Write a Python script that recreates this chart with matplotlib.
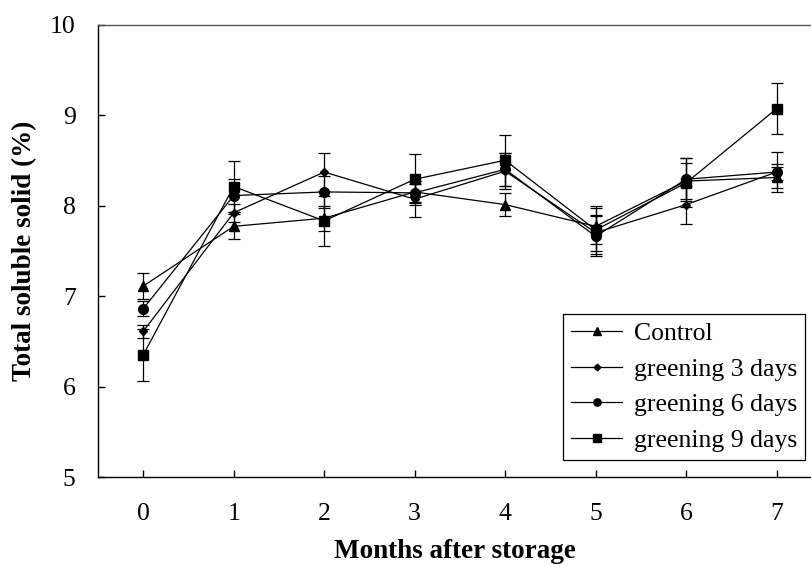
import matplotlib
matplotlib.use("Agg")
import matplotlib.pyplot as plt
from matplotlib.lines import Line2D

plt.rcParams['font.family'] = ['Liberation Serif', 'DejaVu Serif']

months = [0, 1, 2, 3, 4, 5, 6, 7]

control = [7.11, 7.77, 7.86, 8.15, 8.01, 7.77, 8.27, 8.31]
control_err = [0.14, 0.14, 0.14, 0.12, 0.13, 0.20, 0.20, 0.12]

green3 = [6.61, 7.92, 8.37, 8.07, 8.38, 7.70, 8.01, 8.37]
green3_err = [0.07, 0.10, 0.21, 0.20, 0.20, 0.20, 0.21, 0.22]

green6 = [6.86, 8.11, 8.15, 8.14, 8.40, 7.66, 8.29, 8.37]
green6_err = [0.08, 0.18, 0.18, 0.10, 0.18, 0.22, 0.24, 0.09]

green9 = [6.35, 8.21, 7.83, 8.29, 8.50, 7.73, 8.25, 9.07]
green9_err = [0.29, 0.28, 0.28, 0.28, 0.28, 0.27, 0.27, 0.28]

series = [
    ("Control", control, control_err, "^", 7),
    ("greening 3 days", green3, green3_err, "D", 4.5),
    ("greening 6 days", green6, green6_err, "o", 7),
    ("greening 9 days", green9, green9_err, "s", 7),
]

fig = plt.figure(figsize=(8.11, 5.66), dpi=100)
ax = fig.add_axes([0.1208, 0.1572, 0.8792, 0.7995])

handles = []
for label, vals, err, mk, ms in series:
    ax.errorbar(months, vals, yerr=err, color="black", linewidth=0.9,
                marker=mk, markersize=ms, capsize=4.5, elinewidth=0.9,
                capthick=0.9)
    # legend shows only line + marker, no error bar
    handles.append(Line2D([], [], color="black", linewidth=0.9, marker=mk,
                          markersize=ms * 0.75, label=label))

ax.set_xlim(-0.5, 7.38)
ax.set_ylim(5, 10)
ax.set_xticks(months)
ax.set_yticks([5, 6, 7, 8, 9, 10])

ax.spines['right'].set_visible(False)
for s in ['left', 'bottom', 'top']:
    ax.spines[s].set_linewidth(1.0)
ax.spines['top'].set_color('#555555')

ax.tick_params(direction='in', length=5, width=1, labelsize=18.5)
ax.tick_params(axis='x', pad=19)
ax.tick_params(axis='y', pad=16)

ax.set_xlabel("Months after storage", fontsize=19.5, fontweight='bold', labelpad=10)
ax.set_ylabel("Total soluble solid (%)", fontsize=19.5, fontweight='bold', labelpad=9)

leg = ax.legend(handles=handles, loc='lower right', fontsize=18.5,
                frameon=True, fancybox=False, edgecolor='black', framealpha=1,
                handlelength=2.0, handletextpad=0.45, labelspacing=0.5,
                borderpad=0.3, borderaxespad=0,
                bbox_to_anchor=(805 / 811, (566 - 460) / 566),
                bbox_transform=fig.transFigure)
leg.get_frame().set_linewidth(0.9)

fig.savefig("out.png", dpi=100)
